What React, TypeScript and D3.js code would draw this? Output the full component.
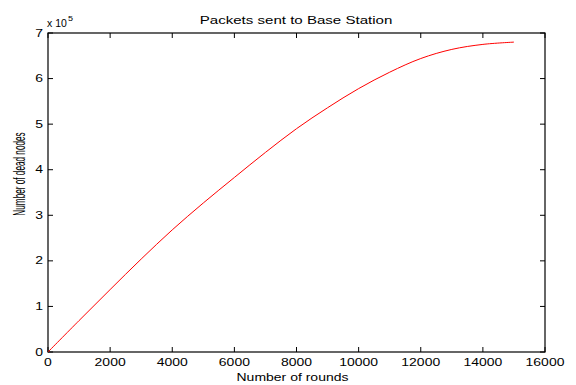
import React from "react";
import * as d3 from "d3";

const rounds = [0, 1000, 2000, 3000, 4000, 5000, 6000, 7000, 8000, 9000, 10000, 11000, 12000, 13000, 14000, 15000];
const packets = [0, 0.69, 1.37, 2.04, 2.68, 3.27, 3.83, 4.38, 4.9, 5.36, 5.78, 6.14, 6.44, 6.64, 6.75, 6.8]; // x 10^5
const xTicks = [0, 2000, 4000, 6000, 8000, 10000, 12000, 14000, 16000];
const yTicks = [0, 1, 2, 3, 4, 5, 6, 7];
const title = "Packets sent to Base Station";
const xLabel = "Number of rounds";
const yLabel = "Number of dead nodes";

export default function App() {
  const W = 576, H = 385;
  const L = 48, R = 545, T = 33, B = 352;
  const x = d3.scaleLinear().domain([0, 16000]).range([L, R]);
  const y = d3.scaleLinear().domain([0, 7]).range([B, T]);
  const pts = rounds.map((r, i) => [r, packets[i]] as [number, number]);
  const line = d3.line<[number, number]>().x(d => x(d[0])).y(d => y(d[1])).curve(d3.curveCatmullRom);
  const font = "'Liberation Sans', Arial, sans-serif";
  const sx = 1.4;
  const tl = 5;
  return (
    <svg width={W} height={H} style={{ position: "absolute", left: 0, top: 0, background: "#fff" }} fontFamily={font}>
      <rect x={0} y={0} width={W} height={H} fill="#fff" />
      <rect x={L} y={T} width={R - L} height={B - T} fill="none" stroke="#000" strokeWidth={1.2} />
      {xTicks.map(t => (
        <g key={"x" + t}>
          <line x1={x(t)} x2={x(t)} y1={B} y2={B - tl} stroke="#000" />
          <line x1={x(t)} x2={x(t)} y1={T} y2={T + tl} stroke="#000" />
          <text transform={`translate(${x(t)},366) scale(${sx},1)`} textAnchor="middle" fontSize={10} fill="#000">{t}</text>
        </g>
      ))}
      {yTicks.map(t => (
        <g key={"y" + t}>
          <line x1={L} x2={L + tl} y1={y(t)} y2={y(t)} stroke="#000" />
          <line x1={R} x2={R - tl} y1={y(t)} y2={y(t)} stroke="#000" />
          <text transform={`translate(43,${y(t) + 3.6}) scale(${sx},1)`} textAnchor="end" fontSize={10} fill="#000">{t}</text>
        </g>
      ))}
      <path d={line(pts) || ""} fill="none" stroke="#ff0000" strokeWidth={1} />
      <text transform={`translate(47,27) scale(1.05,1)`} fontSize={10} fill="#000">x 10</text>
      <text transform={`translate(68,21) scale(1.2,1)`} fontSize={7.5} fill="#000">5</text>
      <text transform={`translate(296,24) scale(1.37,1)`} textAnchor="middle" fontSize={11} fill="#000">{title}</text>
      <text transform={`translate(292.5,381) scale(${sx},1)`} textAnchor="middle" fontSize={10} fill="#000">{xLabel}</text>
      <text transform={`translate(25,174) rotate(-90) scale(0.82,1.6)`} textAnchor="middle" fontSize={10} fill="#000">{yLabel}</text>
    </svg>
  );
}
